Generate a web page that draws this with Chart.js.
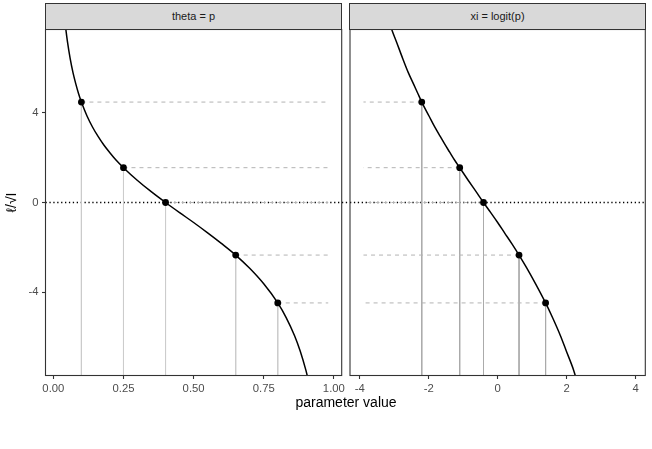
<!DOCTYPE html>
<html>
<head>
<meta charset="utf-8">
<script src="https://cdn.jsdelivr.net/npm/chart.js@4"></script>
<style>
  html, body { margin: 0; padding: 0; background: #fff; }
  #wrap { position: relative; width: 652px; height: 449px; overflow: hidden; background: #fff; font-family: 'Liberation Sans', Arial, sans-serif; }
  canvas { position: absolute; top: 0; }
  .strip { position: absolute; top: 3px; height: 26.5px; box-sizing: border-box; background: #d9d9d9; border: 1px solid #333; color: #1a1a1a; font-size: 11px; text-align: center; line-height: 24.5px; }
  #xtitle { position: absolute; left: 246px; width: 200px; top: 394px; text-align: center; font-size: 14px; color: #000; }
</style>
</head>
<body>
<div id="wrap">
  <canvas id="left" width="350" height="449" style="left:0;width:350px;height:449px"></canvas>
  <canvas id="right" width="306" height="449" style="left:346px;width:306px;height:449px"></canvas>
  <div class="strip" style="left:45px;width:297px">theta = p</div>
  <div class="strip" style="left:349px;width:297px">xi = logit(p)</div>
  <div id="xtitle">parameter value</div>
</div>
<script>
// ---- data ----
const thetaCurveX = [0.04,0.045,0.05,0.06,0.07,0.08,0.09,0.10,0.12,0.14,0.16,0.18,0.20,0.225,0.25,0.30,0.35,0.40,0.45,0.50,0.55,0.60,0.65,0.70,0.75,0.80,0.83,0.86,0.88,0.90,0.905,0.91];
const xiCurveX    = [-3.18,-3.06,-2.94,-2.75,-2.59,-2.44,-2.31,-2.20,-1.99,-1.82,-1.66,-1.52,-1.39,-1.24,-1.10,-0.85,-0.62,-0.41,-0.20,0,0.20,0.41,0.62,0.85,1.10,1.39,1.59,1.82,1.99,2.20,2.25,2.31];
const curveY      = [8.22,7.66,7.18,6.40,5.78,5.28,4.84,4.47,3.85,3.35,2.93,2.56,2.24,1.87,1.55,0.98,0.47,0,-0.45,-0.89,-1.35,-1.83,-2.34,-2.93,-3.62,-4.47,-5.12,-5.93,-6.61,-7.45,-7.70,-7.97];

const thetaPoints = [0.10,0.25,0.40,0.65,0.80];
const xiPoints    = [-2.20,-1.10,-0.41,0.62,1.39];
const pointY      = [4.47,1.55,0,-2.34,-4.47];

const thetaDashEnd = 0.98;
const xiDashEnd    = -3.89;

const thetaTicks = [0,0.25,0.5,0.75,1];
const xiTicks    = [-4,-2,0,2,4];
const yTicks     = [-4,0,4];

const yRange     = [-7.7,7.7];
const thetaRange = [-0.028,1.028];
const xiRange    = [-4.28,4.28];

// ---- helpers ----
Chart.defaults.font.family = "'Liberation Sans', Arial, sans-serif";
Chart.defaults.animation = false;

const framePlugin = {
  id: 'frame',
  afterDraw(chart) {
    const a = chart.chartArea, ctx = chart.ctx;
    ctx.save();
    ctx.strokeStyle = '#333';
    ctx.lineWidth = 1.1;
    ctx.strokeRect(a.left, a.top, a.right - a.left, a.bottom - a.top);
    ctx.restore();
  }
};

function buildDatasets(curveX, pts, dashEnd, zeroFrom, zeroTo, zeroClipRight, vColor) {
  const ds = [];
  // dotted zero line
  ds.push({ data: [{x: zeroFrom, y: 0}, {x: zeroTo, y: 0}], borderColor: '#000', borderWidth: 1.3, borderDash: [1.3, 2.6], pointRadius: 0, clip: {left: 0, top: 0, right: zeroClipRight, bottom: 0}, order: 5 });
  pts.forEach((px, i) => {
    // vertical grey line to the bottom
    ds.push({ data: [{x: px, y: pointY[i]}, {x: px, y: yRange[0]}], borderColor: vColor, borderWidth: 1, pointRadius: 0, order: 4 });
    // horizontal dashed line
    ds.push({ data: [{x: px, y: pointY[i]}, {x: dashEnd, y: pointY[i]}], borderColor: '#b3b3b3', borderWidth: 1, borderDash: [4, 4], pointRadius: 0, order: 3 });
  });
  // curve
  ds.push({ data: curveX.map((x, i) => ({x, y: curveY[i]})), borderColor: '#000', borderWidth: 1.5, pointRadius: 0, cubicInterpolationMode: 'monotone', order: 2 });
  // points
  ds.push({ data: pts.map((x, i) => ({x, y: pointY[i]})), showLine: false, pointRadius: 3.4, pointBackgroundColor: '#000', pointBorderColor: '#000', borderWidth: 0, order: 1 });
  return ds;
}

function xScale(range, ticks, fmt) {
  return {
    type: 'linear', min: range[0], max: range[1],
    afterBuildTicks: s => { s.ticks = ticks.map(v => ({value: v})); },
    afterFit: s => { s.height = 73.5; },
    grid: { drawOnChartArea: false, drawTicks: true, tickLength: 3.5, color: '#333', tickWidth: 1.1 },
    border: { display: false },
    ticks: { color: '#4d4d4d', font: { size: 11.3 }, padding: 3, maxRotation: 0, autoSkip: false, callback: fmt }
  };
}

new Chart(document.getElementById('left'), {
  type: 'line',
  data: { datasets: buildDatasets(thetaCurveX, thetaPoints, thetaDashEnd, thetaRange[0], 1.056, 8, '#cccccc') },
  options: {
    responsive: false, maintainAspectRatio: false,
    layout: { padding: { left: 0, right: 8.3, top: 29.5, bottom: 0 } },
    plugins: { legend: { display: false }, tooltip: { enabled: false } },
    scales: {
      x: xScale(thetaRange, thetaTicks, v => Number(v).toFixed(2)),
      y: {
        type: 'linear', min: yRange[0], max: yRange[1],
        afterBuildTicks: s => { s.ticks = yTicks.map(v => ({value: v})); },
        afterFit: s => { s.width = 45.5; },
        grid: { drawOnChartArea: false, drawTicks: true, tickLength: 3.5, color: '#333', tickWidth: 1.1 },
        border: { display: false },
        ticks: { color: '#4d4d4d', font: { size: 11.3 }, padding: 3.5 },
        title: { display: true, text: 'ℓ/√I', color: '#000', font: { size: 14 }, padding: { top: 4, bottom: 0 } }
      }
    }
  },
  plugins: [framePlugin]
});

new Chart(document.getElementById('right'), {
  type: 'line',
  data: { datasets: buildDatasets(xiCurveX, xiPoints, xiDashEnd, xiRange[0], xiRange[1], 0, '#ababab') },
  options: {
    responsive: false, maintainAspectRatio: false,
    layout: { padding: { left: 3.3, right: 6.7, top: 29.5, bottom: 0 } },
    plugins: { legend: { display: false }, tooltip: { enabled: false } },
    scales: {
      x: xScale(xiRange, xiTicks, v => String(v)),
      y: { type: 'linear', min: yRange[0], max: yRange[1], display: false }
    }
  },
  plugins: [framePlugin]
});
</script>
</body>
</html>
